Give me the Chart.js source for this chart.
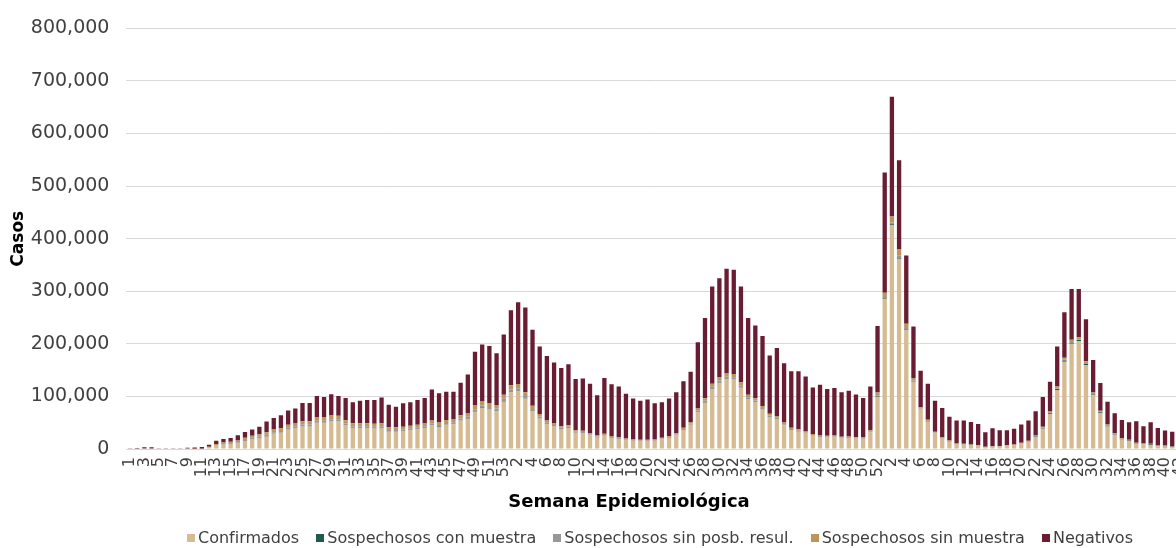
<!DOCTYPE html>
<html lang="es">
<head>
<meta charset="utf-8">
<title>Casos por semana epidemiológica</title>
<script src="https://cdn.jsdelivr.net/npm/chart.js@4.4.1/dist/chart.umd.min.js"></script>
<style>
  html, body { margin: 0; padding: 0; background: #fff; }
  #wrap { position: relative; width: 1176px; height: 548px; overflow: hidden; font-family: "DejaVu Sans", sans-serif; }
  #chart { position: absolute; left: 0; top: 0; }
  #xTitle { position: absolute; left: 429px; width: 400px; top: 492px; text-align: center;
            font-weight: bold; font-size: 18px; line-height: 18px; color: #000; }
  #legend { position: absolute; left: 187px; width: 946px; top: 530px; display: flex; justify-content: space-between;
            font-size: 16px; line-height: 16px; color: #404040; white-space: nowrap; }
  .leg { display: flex; align-items: center; }
  .leg i { display: inline-block; width: 8px; height: 8px; margin-right: 3px; }
</style>
</head>
<body>
<div id="wrap">
  <canvas id="chart" width="1190" height="548"></canvas>
  <div id="xTitle">Semana Epidemiológica</div>
  <div id="legend"></div>
</div>
<script>
// weeks: 2020 (1-53), 2021 (1-52), 2022 (1-42)
const WEEKS_2020 = Array.from({ length: 53 }, (_, i) => String(i + 1));
const WEEKS_2021 = Array.from({ length: 52 }, (_, i) => String(i + 1));
const WEEKS_2022 = Array.from({ length: 42 }, (_, i) => String(i + 1));

const CONFIRMADOS_2020 = [0,0,0,0,0,0,0,0,0,50, 300,3000,6000,8000,9500,11000,15000,19000,21000,24000,
  29000,31000,37000,40000,43000,43000,50000,50000,53000,53000, 45000,40000,40000,40000,39000,40000,33000,33000,34000,36000,
  38000,40000,45000,42000,46000,47000,54000,57000,71000,78000, 75000,72000,90000];
const CONFIRMADOS_2021 = [108000,110000,96000,72000,58000,47000,43000,38000,40000,31000, 30000,26000,22000,25000,21000,19000,17000,15000,14500,14500,
  15000,18500,21000,26000,36000,46000,70000,88000,114000,126000, 133000,132000,117000,95000,89000,75000,61000,57000,45000,36000,
  33000,29500,25000,23000,22000,22500,20500,21000,20000,19500, 32000,99000];
const CONFIRMADOS_2022 = [285000,426000,362000,226000,128000,75000,52000,30000,20000,14000, 9000,8500,7500,6000,3500,4200,4800,6000,7200,10300,
  14000,23000,38500,66500,112000,166000,200000,205000,160000,102000, 68500,43000,27000,18000,15000,10000,9000,7800,5200,4600,
  3400,null];

const CON_MUESTRA_2020 = [0,0,0,0,0,0,0,0,0,0, 50,100,200,300,300,300,400,400,400,500,
  500,500,500,500,500,500,600,600,600,600, 500,500,500,500,500,500,500,500,500,500,
  500,500,600,600,600,600,700,700,800,800, 800,800,900];
const CON_MUESTRA_2021 = [900,900,800,700,600,500,500,400,400,400, 400,300,300,300,300,300,300,300,300,300,
  300,300,300,400,400,500,600,700,800,800, 800,800,700,600,600,500,500,500,400,400,
  400,300,300,300,300,300,300,300,300,300, 400,800];
const CON_MUESTRA_2022 = [1200,1500,1500,1200,1000,800,700,600,500,500, 400,400,400,300,300,300,300,300,300,400,
  500,700,1000,1500,2000,2200,2200,2200,2000,1800, 1500,1300,1200,1100,1100,1000,1000,1000,1000,1200,
  1500,null];

const SIN_POSIB_2020 = [0,0,0,0,0,0,0,0,0,0, 100,300,800,1000,1200,1500,1800,2000,2200,2500,
  2500,2700,2800,3000,3000,3000,3200,3200,3200,3000, 3000,3000,3000,3000,3000,3000,2800,2800,2800,2800,
  2800,3000,3000,3000,3000,3200,3500,3500,4000,4000, 4000,4000,4500];
const SIN_POSIB_2021 = [4500,4500,4000,3500,3000,2500,2300,2000,2000,1800, 1800,1600,1400,1500,1400,1300,1200,1100,1100,1100,
  1100,1200,1200,1400,1600,1800,2500,3000,3500,3500, 3500,3500,3200,2800,2500,2300,2000,2000,1800,1600,
  1500,1400,1200,1200,1100,1100,1000,1000,1000,1000, 1300,2500];
const SIN_POSIB_2022 = [3000,3500,4000,3000,2000,1200,900,700,600,500, 400,400,400,300,200,300,300,300,300,400,
  500,600,800,1000,1300,1500,1500,1500,1300,1000, 800,600,500,400,400,300,300,300,300,300,
  300,null];

const SIN_MUESTRA_2020 = [0,0,0,0,0,0,0,0,0,0, 200,1000,2500,3000,3000,3500,4000,4000,4500,5000,
  5000,5500,6000,6000,6500,6500,7000,7000,7000,6500, 6000,5500,5500,5500,5500,5500,5000,5000,5000,5000,
  5000,5000,5500,5000,5500,5500,6000,6500,7000,7500, 7500,7000,8000];
const SIN_MUESTRA_2021 = [8000,8000,7000,6000,5000,4000,3500,3000,3000,2500, 2500,2200,2000,2200,2000,1800,1600,1500,1500,1500,
  1500,1600,1800,2000,2500,3000,4000,5000,6000,6500, 6500,6500,6000,5000,4500,4000,3500,3500,3000,2500,
  2500,2200,2000,2000,1800,1800,1700,1700,1600,1600, 2200,5000];
const SIN_MUESTRA_2022 = [8000,11000,12000,8000,4000,2500,2000,1500,1200,1000, 800,800,700,600,400,500,500,500,600,700,
  900,1200,1800,2500,3500,4000,4000,4000,3500,2500, 2000,1500,1200,1000,900,800,700,700,600,500,
  500,null];

const NEGATIVOS_2020 = [1500,2000,3500,3500,1500,1500,1500,1500,2500,2950, 3350,3600,6100,6700,7000,9700,11300,11600,14400,20500,
  22000,24300,26700,27500,34500,34500,39800,38200,40200,37900, 42500,40000,43000,44000,45000,49000,42700,39200,44700,44700,
  46700,48500,58900,55400,53900,52700,61800,73800,102200,108700, 108700,98200,114600];
const NEGATIVOS_2021 = [142600,155600,161200,144800,128400,123000,115200,110600,115600,97300, 99300,93900,76300,106000,98300,96600,84900,78100,74600,76600,
  69100,67400,71700,78200,88500,95700,125900,152300,184700,188200, 199200,198200,182100,145600,138400,133200,111000,129000,112800,107500,
  110600,104600,88500,95500,88800,90300,84500,87000,80700,74600, 83100,126700];
const NEGATIVOS_2022 = [228800,228000,169500,129800,98000,69500,68400,59200,55700,45500, 43400,43900,42500,40500,27600,34200,29900,28700,29900,34700,
  38100,46100,56900,56500,76200,86300,96800,91800,80200,62200, 52700,43600,38100,34500,33600,40600,32300,41200,32900,28400,
  27300,null];

const Y_MAX = 800000;
const Y_STEP = 100000;

const SERIES = [
  { label: 'Confirmados',                  color: '#D6BA92', data: [...CONFIRMADOS_2020, ...CONFIRMADOS_2021, ...CONFIRMADOS_2022] },
  { label: 'Sospechosos con muestra',      color: '#1E5B4F', data: [...CON_MUESTRA_2020, ...CON_MUESTRA_2021, ...CON_MUESTRA_2022] },
  { label: 'Sospechosos sin posb. resul.', color: '#98989A', data: [...SIN_POSIB_2020, ...SIN_POSIB_2021, ...SIN_POSIB_2022] },
  { label: 'Sospechosos sin muestra',      color: '#BC955C', data: [...SIN_MUESTRA_2020, ...SIN_MUESTRA_2021, ...SIN_MUESTRA_2022] },
  { label: 'Negativos',                    color: '#691C32', data: [...NEGATIVOS_2020, ...NEGATIVOS_2021, ...NEGATIVOS_2022] },
];

const FONT = '"DejaVu Sans", sans-serif';

// html legend, spread like the original
const legendEl = document.getElementById('legend');
SERIES.forEach(s => {
  const d = document.createElement('div');
  d.className = 'leg';
  d.innerHTML = `<i style="background:${s.color}"></i><span>${s.label}</span>`;
  legendEl.appendChild(d);
});

// week labels, every second category, turned 90deg and hung under the axis
const weekLabels = {
  id: 'weekLabels',
  afterDraw(chart) {
    const xs = chart.scales.x;
    const ctx = chart.ctx;
    const labels = chart.data.labels;
    ctx.save();
    ctx.fillStyle = '#404040';
    ctx.font = '16px ' + FONT;
    ctx.textAlign = 'right';
    ctx.textBaseline = 'middle';
    for (let i = 0; i < labels.length; i += 2) {
      const x = xs.getPixelForValue(i);
      ctx.save();
      ctx.translate(x, chart.chartArea.bottom + 8);
      ctx.rotate(-Math.PI / 2);
      ctx.fillText(labels[i], 0, 0);
      ctx.restore();
    }
    ctx.restore();
  },
};

new Chart(document.getElementById('chart'), {
  type: 'bar',
  data: {
    labels: [...WEEKS_2020, ...WEEKS_2021, ...WEEKS_2022],
    datasets: SERIES.map(s => ({
      label:              s.label,
      data:               s.data,
      backgroundColor:    s.color,
      borderWidth:        0,
      barPercentage:      0.6,
      categoryPercentage: 1.0,
    })),
  },
  options: {
    responsive: false,
    animation:  false,
    layout: { padding: { top: 22, right: 7, bottom: 0, left: 0 } },
    plugins: {
      legend:  { display: false },
      tooltip: { enabled: false },
    },
    scales: {
      x: {
        stacked: true,
        grid:    { display: false, drawTicks: false },
        border:  { display: false },
        ticks:   { display: false },
        afterFit: (scale) => { scale.height = 99; },
      },
      y: {
        stacked: true,
        min: 0,
        max: Y_MAX,
        grid:   { color: '#D9D9D9', lineWidth: 1, drawTicks: false },
        border: { display: false },
        ticks: {
          stepSize: Y_STEP,
          padding:  17,
          color:    '#404040',
          font:     { family: FONT, size: 19 },
          callback: v => v.toLocaleString('en-US'),
        },
        title: {
          display: true,
          text:    'Casos',
          color:   '#000',
          font:    { family: FONT, size: 17, weight: 'bold' },
          padding: { top: 8, bottom: 0 },
        },
        afterFit: (scale) => { scale.width = 126.4; },
      },
    },
  },
  plugins: [weekLabels],
});
</script>
</body>
</html>
